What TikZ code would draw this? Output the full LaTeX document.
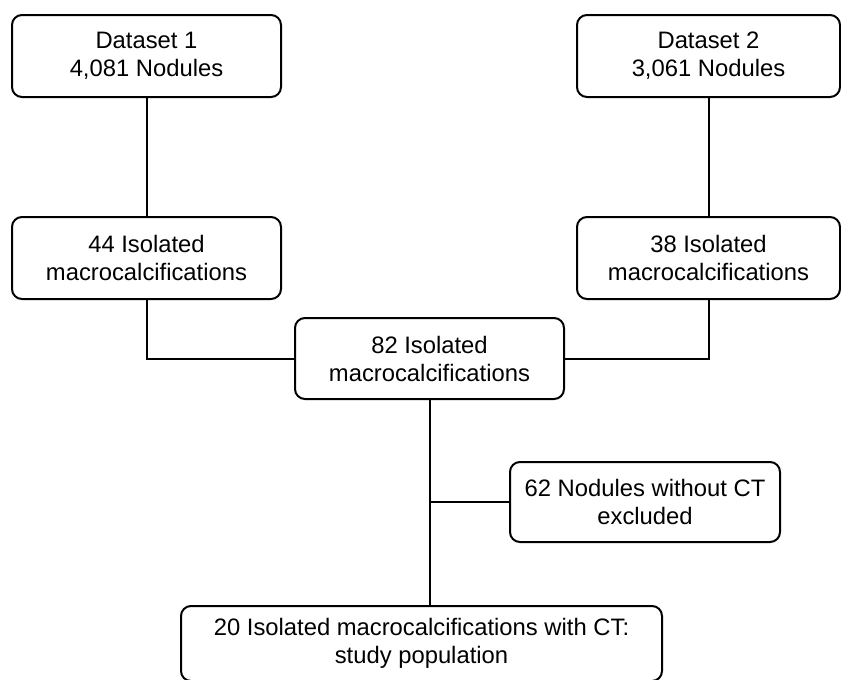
\documentclass[tikz,border=0pt]{standalone}
\usepackage{fontspec}
\setmainfont{Liberation Sans}
\begin{document}
\begin{tikzpicture}[x=1pt,y=-1pt,
  box/.style={draw=black, line width=2pt, rounded corners=10pt, align=center,
    inner sep=0pt, font=\fontsize{23.8}{28}\selectfont},
  link/.style={draw=black, line width=2pt}]
\useasboundingbox (0,0) rectangle (841,680);
\node[box, minimum width=269pt, minimum height=82pt] (d1) at (146.5,56) {Dataset 1\\4,081 Nodules};
\node[box, minimum width=263pt, minimum height=82pt] (d2) at (708.5,56) {Dataset 2\\3,061 Nodules};
\node[box, minimum width=269pt, minimum height=82pt] (i44) at (146.5,258) {44 Isolated\\macrocalcifications};
\node[box, minimum width=263pt, minimum height=82pt] (i38) at (708.5,258) {38 Isolated\\macrocalcifications};
\node[box, minimum width=269pt, minimum height=81pt] (i82) at (429.5,358.5) {82 Isolated\\macrocalcifications};
\node[box, minimum width=270pt, minimum height=80pt] (i62) at (645,502) {62 Nodules without CT\\excluded};
\node[box, minimum width=481pt, minimum height=75pt] (i20) at (421.5,643.5) {20 Isolated macrocalcifications with CT:\\study population};
\draw[link] (d1) -- (i44);
\draw[link] (d2) -- (i38);
\draw[link] (i44.south) |- (i82.west);
\draw[link] (i38.south) |- (i82.east);
\draw[link] (i62.west) -- (i62.west -| i82.south);
\draw[link] (i82.south) -- (i82.south |- i20.north);
\end{tikzpicture}
\end{document}
